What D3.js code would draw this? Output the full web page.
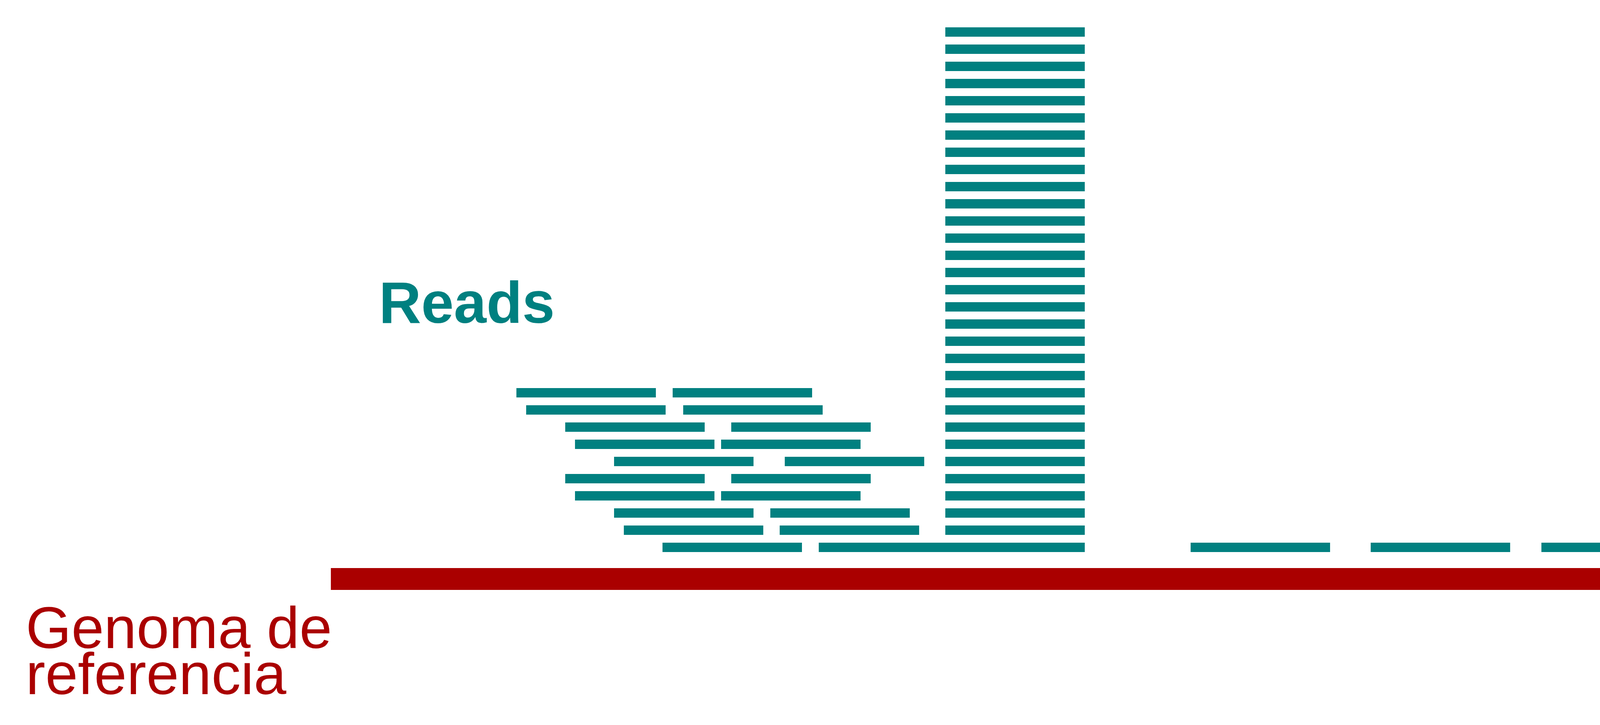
<!DOCTYPE html>
<html>
<head>
<meta charset="utf-8">
<script src="https://cdn.jsdelivr.net/npm/d3@7"></script>
<style>
  body { margin: 0; background: #fff; }
  text { font-family: "Liberation Sans", Arial, sans-serif; }
</style>
</head>
<body>
<script>
// genome positions (bp from the start of the reference) and pileup level of each read
var readLength = 357;
var genomeLength = 3512;

// pileup on the left: [start, level]
var pileupReads = [
    [849, 0], [1249, 0],
    [750, 1], [1149, 1],
    [725, 2], [1125, 2],
    [625, 3], [999, 3],
    [600, 4], [1025, 4],
    [725, 5], [1162, 5],
    [625, 6], [999, 6],
    [600, 7], [1025, 7],
    [500, 8], [902, 8],
    [475, 9], [875, 9]
];

// the tall stack of identical reads
var stackStart = 1573;
var stackLevels = d3.range(0, 31);

// lone reads on the right
var singleStarts = [2201, 2662, 3099];

var labelReads = "Reads";
var labelGenome = ["Genoma de", "referencia"];

var width = 4413, height = 1857;
var teal = "#008080", red = "#aa0000";

var svg = d3.select("body").append("svg")
    .attr("width", width)
    .attr("height", height);

var x = d3.scaleLinear().domain([0, genomeLength]).range([847, 4359]);
var y = d3.scaleLinear().domain([0, 30]).range([1390, 70]);
var barH = 24;

var reads = pileupReads.map(function(d) { return { start: d[0], level: d[1] }; })
    .concat(stackLevels.map(function(l) { return { start: stackStart, level: l }; }))
    .concat(singleStarts.map(function(s) { return { start: s, level: 0 }; }));

svg.selectAll("rect.read")
    .data(reads)
    .enter().append("rect")
    .attr("class", "read")
    .attr("x", function(d) { return x(d.start); })
    .attr("width", function(d) { return x(d.start + readLength) - x(d.start); })
    .attr("y", function(d) { return y(d.level); })
    .attr("height", barH)
    .attr("fill", teal);

// reference genome
svg.append("rect")
    .attr("x", x(0))
    .attr("width", x(genomeLength) - x(0))
    .attr("y", 1455)
    .attr("height", 56)
    .attr("fill", red);

svg.append("text")
    .attr("x", 970)
    .attr("y", 827)
    .attr("fill", teal)
    .attr("font-size", 150)
    .attr("font-weight", "bold")
    .text(labelReads);

svg.selectAll("text.genome")
    .data(labelGenome)
    .enter().append("text")
    .attr("class", "genome")
    .attr("x", 66)
    .attr("y", function(d, i) { return 1660 + i * 118; })
    .attr("fill", red)
    .attr("font-size", 150)
    .text(function(d) { return d; });
</script>
</body>
</html>
